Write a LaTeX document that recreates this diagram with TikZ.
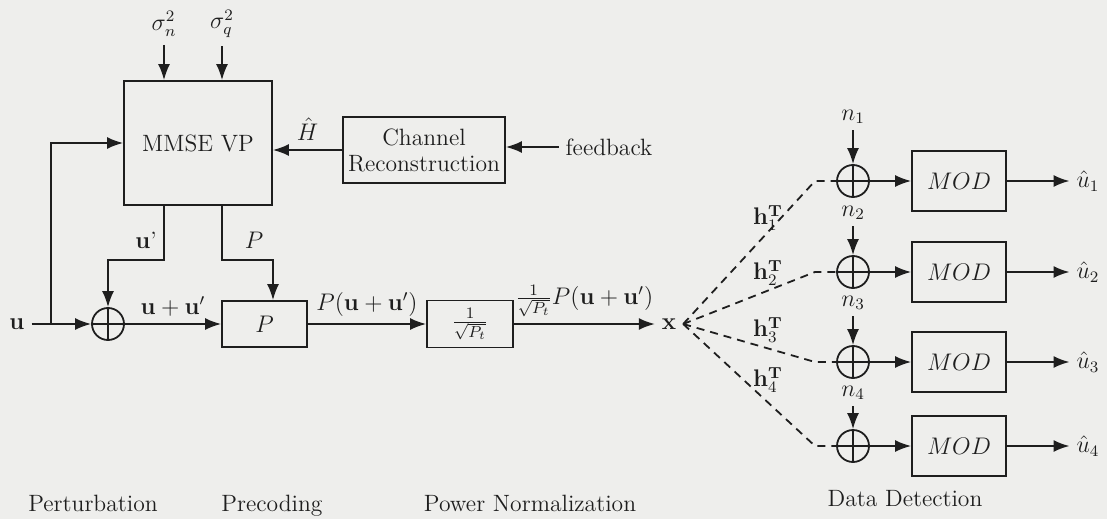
\documentclass[tikz,border=0pt]{standalone}
\usetikzlibrary{arrows.meta}
\definecolor{bgc}{RGB}{238,238,236}
\definecolor{ink}{RGB}{30,30,30}
\begin{document}
\begin{tikzpicture}[x=0.5pt,y=-0.5pt,
  every node/.style={font=\fontsize{11.8}{13}\selectfont, text=ink},
  blk/.style={draw=ink, line width=0.9pt, inner sep=0pt},
  sumnode/.style={draw=ink, circle, line width=0.9pt, minimum size=16pt, inner sep=0pt,
    path picture={\draw[ink, line width=0.9pt] (path picture bounding box.north) -- (path picture bounding box.south)
      (path picture bounding box.west) -- (path picture bounding box.east);}},
  con/.style={draw=ink, line width=0.9pt},
  arr/.style={con, -{Latex[length=8pt,width=6pt]}},
  dsh/.style={con, dash pattern=on 4pt off 3pt},
  tight/.style={inner sep=1pt},
  bottomlbl/.style={anchor=base}
]
\fill[bgc] (0,0) rectangle (1107,519);
\useasboundingbox (0,0) rectangle (1107,519);

% top-left block
\node[blk, minimum width=74pt, minimum height=62pt] (mmse) at (198,143) {MMSE VP};
\node[tight] (sn) at (164,24) {$\sigma_n^2$};
\node[tight] (sq) at (222,24) {$\sigma_q^2$};
\draw[arr] ([yshift=-3pt]sn.south) -- (sn.south |- mmse.north);
\draw[arr] ([yshift=-3pt]sq.south) -- (sq.south |- mmse.north);

\node[blk, minimum width=81pt, minimum height=33pt, align=center] (chan) at (424,150) {Channel\\Reconstruction};
\draw[arr] (chan.west) -- (chan.west -| mmse.east) node[midway, above, yshift=1pt] {$\hat H$};
\node (fb) at (609,147) {feedback};
\draw[arr] (fb.west) -- (fb.west -| chan.east);

% main chain
\node (u) at (17,324) {$\mathbf{u}$};
\node[sumnode] (s1) at (108,324) {};
\coordinate (br) at (51,324);
\coordinate (lvl) at (0,260);
\draw[arr] (u.east) -- (s1.west);
\draw[arr] (br) |- (mmse.west);
\draw[arr] (sn |- mmse.south) -- (sn |- lvl) -| (s1.north);
\node (uplab) at (146,240) {$\mathbf{u}$'};

\node[blk, minimum width=42.5pt, minimum height=23pt] (pbox) at (264.5,324) {$P$};
\draw[arr] (sq |- mmse.south) -- (sq |- lvl) -| ([xshift=4.25pt]pbox.north);
\node (plab) at (254,240) {$P$};
\draw[arr] (s1.east) -- (pbox.west) node[midway, above] {$\mathbf{u}+\mathbf{u}'$};

\node[blk, minimum width=43pt, minimum height=23.5pt] (norm) at (470,324) {$\frac{1}{\sqrt{P_t}}$};
\draw[arr] (pbox.east) -- (norm.west) node[midway, above] {$P(\mathbf{u}+\mathbf{u}')$};

\node (x) at (669,324) {$\mathbf{x}$};
\draw[arr] (norm.east) -- (x.west) node[midway, above] {$\frac{1}{\sqrt{P_t}}P(\mathbf{u}+\mathbf{u}')$};

% receivers
\foreach \i/\y/\ny in {1/181/117, 2/272/213, 3/362/303, 4/446/393} {
  \node[sumnode] (a\i) at (853,\y) {};
  \node[blk, minimum width=47pt, minimum height=30pt] (m\i) at (959,\y) {$MOD$};
  \node (uh\i) at (1088,\y) {$\hat u_\i$};
  \node[tight] (n\i) at (853,\ny) {$n_\i$};
  \coordinate (d\i) at (815,\y);
  \draw[arr] ([yshift=-2pt]n\i.south) -- (a\i.north);
  \draw[arr] (a\i.east) -- (m\i.west);
  \draw[arr] (m\i.east) -- (uh\i.west);
  \draw[dsh] (x.east) -- (d\i) -- (a\i.west);
}
\node[tight] (h1) at (768,218) {$\mathbf{h}_1^{\mathbf{T}}$};
\node[tight] (h2) at (768,273) {$\mathbf{h}_2^{\mathbf{T}}$};
\node[tight] (h3) at (768,330) {$\mathbf{h}_3^{\mathbf{T}}$};
\node[tight] (h4) at (768,380) {$\mathbf{h}_4^{\mathbf{T}}$};

% stage labels
\node[bottomlbl] (l1) at (93,511) {Perturbation};
\node[bottomlbl] (l2) at (272,511) {Precoding};
\node[bottomlbl] (l3) at (530,511) {Power Normalization};
\node[bottomlbl] (l4) at (905,506) {Data Detection};
\end{tikzpicture}
\end{document}
